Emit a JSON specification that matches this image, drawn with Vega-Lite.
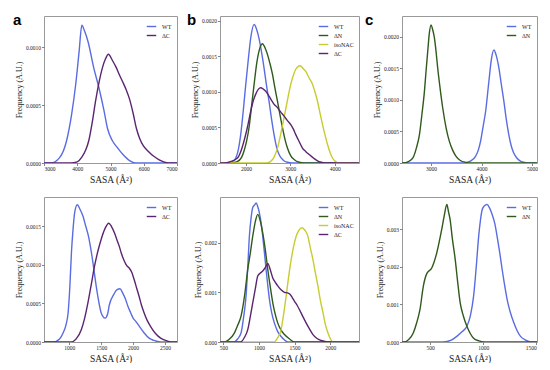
{
"$schema": "https://vega.github.io/schema/vega-lite/v6.json",
"background": "white",
"padding": {"left": 12, "top": 12, "right": 0, "bottom": 0},
"datasets": {
"ta": [
{"s":"WT","x":3000,"y":0},{"s":"WT","x":3215,"y":0},{"s":"WT","x":3471,"y":0.000046},{"s":"WT","x":3677,"y":0.00019},{"s":"WT","x":3831,"y":0.00042},{"s":"WT","x":3954,"y":0.00068},{"s":"WT","x":4055,"y":0.00096},{"s":"WT","x":4138,"y":0.00119},{"s":"WT","x":4220,"y":0.00114},{"s":"WT","x":4323,"y":0.00105},{"s":"WT","x":4498,"y":0.00082},{"s":"WT","x":4652,"y":0.00065},{"s":"WT","x":4806,"y":0.00045},{"s":"WT","x":4908,"y":0.0003},{"s":"WT","x":5062,"y":0.00019},{"s":"WT","x":5215,"y":0.00013},{"s":"WT","x":5369,"y":0.000075},{"s":"WT","x":5575,"y":0.00002},{"s":"WT","x":5750,"y":0},{"s":"WT","x":7000,"y":0},
{"s":"ΔC","x":3000,"y":0},{"s":"ΔC","x":3800,"y":0},{"s":"ΔC","x":4000,"y":0.00001},{"s":"ΔC","x":4138,"y":0.00005},{"s":"ΔC","x":4250,"y":0.00011},{"s":"ΔC","x":4344,"y":0.00019},{"s":"ΔC","x":4450,"y":0.00035},{"s":"ΔC","x":4548,"y":0.00053},{"s":"ΔC","x":4650,"y":0.00069},{"s":"ΔC","x":4754,"y":0.00082},{"s":"ΔC","x":4850,"y":0.0009},{"s":"ΔC","x":4938,"y":0.00094},{"s":"ΔC","x":5050,"y":0.00089},{"s":"ΔC","x":5163,"y":0.00083},{"s":"ΔC","x":5270,"y":0.00076},{"s":"ΔC","x":5369,"y":0.0007},{"s":"ΔC","x":5475,"y":0.00063},{"s":"ΔC","x":5575,"y":0.00055},{"s":"ΔC","x":5680,"y":0.00043},{"s":"ΔC","x":5778,"y":0.0003},{"s":"ΔC","x":5880,"y":0.00021},{"s":"ΔC","x":5985,"y":0.00015},{"s":"ΔC","x":6140,"y":0.0001},{"s":"ΔC","x":6292,"y":0.00006},{"s":"ΔC","x":6450,"y":0.00003},{"s":"ΔC","x":6600,"y":0.00001},{"s":"ΔC","x":6750,"y":0},{"s":"ΔC","x":7000,"y":0}
],
"tb": [
{"s":"WT","x":1400,"y":0},{"s":"WT","x":1500,"y":0},{"s":"WT","x":1700,"y":0.00002},{"s":"WT","x":1769,"y":0.00007},{"s":"WT","x":1830,"y":0.0002},{"s":"WT","x":1880,"y":0.0004},{"s":"WT","x":1940,"y":0.00075},{"s":"WT","x":1993,"y":0.0011},{"s":"WT","x":2050,"y":0.00145},{"s":"WT","x":2106,"y":0.00176},{"s":"WT","x":2181,"y":0.00195},{"s":"WT","x":2240,"y":0.00188},{"s":"WT","x":2294,"y":0.00175},{"s":"WT","x":2350,"y":0.00156},{"s":"WT","x":2406,"y":0.00134},{"s":"WT","x":2460,"y":0.0011},{"s":"WT","x":2519,"y":0.00087},{"s":"WT","x":2575,"y":0.00062},{"s":"WT","x":2632,"y":0.0004},{"s":"WT","x":2690,"y":0.00022},{"s":"WT","x":2745,"y":0.00012},{"s":"WT","x":2840,"y":0.00004},{"s":"WT","x":2934,"y":0.00001},{"s":"WT","x":3050,"y":0},{"s":"WT","x":4550,"y":0},
{"s":"ΔN","x":1400,"y":0},{"s":"ΔN","x":1650,"y":0},{"s":"ΔN","x":1800,"y":0.00002},{"s":"ΔN","x":1900,"y":0.00008},{"s":"ΔN","x":1955,"y":0.00017},{"s":"ΔN","x":2010,"y":0.0003},{"s":"ΔN","x":2068,"y":0.0005},{"s":"ΔN","x":2125,"y":0.0008},{"s":"ΔN","x":2181,"y":0.0011},{"s":"ΔN","x":2240,"y":0.0014},{"s":"ΔN","x":2294,"y":0.00158},{"s":"ΔN","x":2370,"y":0.00168},{"s":"ΔN","x":2430,"y":0.00162},{"s":"ΔN","x":2483,"y":0.00153},{"s":"ΔN","x":2540,"y":0.0014},{"s":"ΔN","x":2596,"y":0.00125},{"s":"ΔN","x":2650,"y":0.00106},{"s":"ΔN","x":2709,"y":0.00087},{"s":"ΔN","x":2765,"y":0.00068},{"s":"ΔN","x":2821,"y":0.0005},{"s":"ΔN","x":2880,"y":0.00033},{"s":"ΔN","x":2934,"y":0.00021},{"s":"ΔN","x":3010,"y":0.0001},{"s":"ΔN","x":3084,"y":0.00005},{"s":"ΔN","x":3200,"y":0.00001},{"s":"ΔN","x":3310,"y":0},{"s":"ΔN","x":4550,"y":0},
{"s":"isoNAC","x":1400,"y":0},{"s":"isoNAC","x":2450,"y":0},{"s":"isoNAC","x":2550,"y":0.00002},{"s":"isoNAC","x":2630,"y":0.00008},{"s":"isoNAC","x":2709,"y":0.00021},{"s":"isoNAC","x":2780,"y":0.0004},{"s":"isoNAC","x":2858,"y":0.00064},{"s":"isoNAC","x":2930,"y":0.00087},{"s":"isoNAC","x":3009,"y":0.00111},{"s":"isoNAC","x":3070,"y":0.00124},{"s":"isoNAC","x":3122,"y":0.00132},{"s":"isoNAC","x":3219,"y":0.00137},{"s":"isoNAC","x":3290,"y":0.00133},{"s":"isoNAC","x":3348,"y":0.00129},{"s":"isoNAC","x":3420,"y":0.0012},{"s":"isoNAC","x":3499,"y":0.00111},{"s":"isoNAC","x":3560,"y":0.00099},{"s":"isoNAC","x":3612,"y":0.00087},{"s":"isoNAC","x":3670,"y":0.0007},{"s":"isoNAC","x":3725,"y":0.00054},{"s":"isoNAC","x":3780,"y":0.0004},{"s":"isoNAC","x":3838,"y":0.00026},{"s":"isoNAC","x":3900,"y":0.00014},{"s":"isoNAC","x":3950,"y":0.00007},{"s":"isoNAC","x":4020,"y":0.00002},{"s":"isoNAC","x":4100,"y":0},{"s":"isoNAC","x":4550,"y":0},
{"s":"ΔC","x":1400,"y":0},{"s":"ΔC","x":1500,"y":0},{"s":"ΔC","x":1650,"y":0.00002},{"s":"ΔC","x":1806,"y":0.00007},{"s":"ΔC","x":1880,"y":0.00016},{"s":"ΔC","x":1955,"y":0.00031},{"s":"ΔC","x":2030,"y":0.0005},{"s":"ΔC","x":2106,"y":0.00073},{"s":"ΔC","x":2160,"y":0.00087},{"s":"ΔC","x":2219,"y":0.00097},{"s":"ΔC","x":2280,"y":0.00104},{"s":"ΔC","x":2332,"y":0.00106},{"s":"ΔC","x":2390,"y":0.00104},{"s":"ΔC","x":2445,"y":0.00101},{"s":"ΔC","x":2500,"y":0.00096},{"s":"ΔC","x":2558,"y":0.0009},{"s":"ΔC","x":2630,"y":0.00083},{"s":"ΔC","x":2709,"y":0.00078},{"s":"ΔC","x":2780,"y":0.00072},{"s":"ΔC","x":2858,"y":0.00066},{"s":"ΔC","x":2930,"y":0.0006},{"s":"ΔC","x":3009,"y":0.00054},{"s":"ΔC","x":3065,"y":0.00048},{"s":"ΔC","x":3122,"y":0.0004},{"s":"ΔC","x":3200,"y":0.0003},{"s":"ΔC","x":3273,"y":0.00021},{"s":"ΔC","x":3350,"y":0.00016},{"s":"ΔC","x":3424,"y":0.00012},{"s":"ΔC","x":3520,"y":0.00007},{"s":"ΔC","x":3612,"y":0.00003},{"s":"ΔC","x":3700,"y":0.00001},{"s":"ΔC","x":3770,"y":0},{"s":"ΔC","x":4550,"y":0}
],
"tc": [
{"s":"WT","x":2420,"y":0},{"s":"WT","x":3650,"y":0},{"s":"WT","x":3780,"y":0.00003},{"s":"WT","x":3885,"y":0.00011},{"s":"WT","x":3935,"y":0.0002},{"s":"WT","x":3983,"y":0.00035},{"s":"WT","x":4030,"y":0.00057},{"s":"WT","x":4082,"y":0.00082},{"s":"WT","x":4147,"y":0.0013},{"s":"WT","x":4195,"y":0.00164},{"s":"WT","x":4246,"y":0.00179},{"s":"WT","x":4290,"y":0.00171},{"s":"WT","x":4344,"y":0.00151},{"s":"WT","x":4390,"y":0.00126},{"s":"WT","x":4443,"y":0.00098},{"s":"WT","x":4490,"y":0.0007},{"s":"WT","x":4541,"y":0.00045},{"s":"WT","x":4590,"y":0.00027},{"s":"WT","x":4639,"y":0.00016},{"s":"WT","x":4700,"y":0.00008},{"s":"WT","x":4770,"y":0.00003},{"s":"WT","x":4850,"y":0.00001},{"s":"WT","x":4950,"y":0},{"s":"WT","x":5100,"y":0},
{"s":"ΔN","x":2420,"y":0},{"s":"ΔN","x":2450,"y":0},{"s":"ΔN","x":2550,"y":0.00002},{"s":"ΔN","x":2640,"y":0.00008},{"s":"ΔN","x":2710,"y":0.00024},{"s":"ΔN","x":2770,"y":0.00045},{"s":"ΔN","x":2820,"y":0.00078},{"s":"ΔN","x":2869,"y":0.00114},{"s":"ΔN","x":2900,"y":0.00145},{"s":"ΔN","x":2935,"y":0.00178},{"s":"ΔN","x":2965,"y":0.00205},{"s":"ΔN","x":3000,"y":0.00219},{"s":"ΔN","x":3030,"y":0.00212},{"s":"ΔN","x":3065,"y":0.00199},{"s":"ΔN","x":3100,"y":0.00176},{"s":"ΔN","x":3131,"y":0.00151},{"s":"ΔN","x":3180,"y":0.00118},{"s":"ΔN","x":3230,"y":0.00088},{"s":"ΔN","x":3300,"y":0.00055},{"s":"ΔN","x":3360,"y":0.00035},{"s":"ΔN","x":3430,"y":0.0002},{"s":"ΔN","x":3492,"y":0.00011},{"s":"ΔN","x":3580,"y":0.00004},{"s":"ΔN","x":3690,"y":0.00001},{"s":"ΔN","x":3800,"y":0},{"s":"ΔN","x":5100,"y":0}
],
"ba": [
{"s":"WT","x":600,"y":0},{"s":"WT","x":750,"y":0},{"s":"WT","x":850,"y":0.00004},{"s":"WT","x":907,"y":0.00012},{"s":"WT","x":950,"y":0.00022},{"s":"WT","x":984,"y":0.00038},{"s":"WT","x":1010,"y":0.0007},{"s":"WT","x":1036,"y":0.00116},{"s":"WT","x":1060,"y":0.00145},{"s":"WT","x":1087,"y":0.00168},{"s":"WT","x":1128,"y":0.00178},{"s":"WT","x":1170,"y":0.00172},{"s":"WT","x":1217,"y":0.00163},{"s":"WT","x":1260,"y":0.0015},{"s":"WT","x":1303,"y":0.00137},{"s":"WT","x":1340,"y":0.0012},{"s":"WT","x":1372,"y":0.00103},{"s":"WT","x":1410,"y":0.0008},{"s":"WT","x":1449,"y":0.00059},{"s":"WT","x":1500,"y":0.00038},{"s":"WT","x":1530,"y":0.00033},{"s":"WT","x":1562,"y":0.00031},{"s":"WT","x":1600,"y":0.00036},{"s":"WT","x":1628,"y":0.00048},{"s":"WT","x":1700,"y":0.00062},{"s":"WT","x":1750,"y":0.00068},{"s":"WT","x":1796,"y":0.00069},{"s":"WT","x":1840,"y":0.00063},{"s":"WT","x":1883,"y":0.00055},{"s":"WT","x":1920,"y":0.00046},{"s":"WT","x":1961,"y":0.00038},{"s":"WT","x":2000,"y":0.00031},{"s":"WT","x":2039,"y":0.00027},{"s":"WT","x":2100,"y":0.0002},{"s":"WT","x":2170,"y":0.00012},{"s":"WT","x":2250,"y":0.00005},{"s":"WT","x":2325,"y":0.00002},{"s":"WT","x":2430,"y":0},{"s":"WT","x":2700,"y":0},
{"s":"ΔC","x":600,"y":0},{"s":"ΔC","x":1030,"y":0},{"s":"ΔC","x":1110,"y":0.00004},{"s":"ΔC","x":1190,"y":0.00016},{"s":"ΔC","x":1240,"y":0.0003},{"s":"ΔC","x":1294,"y":0.00051},{"s":"ΔC","x":1345,"y":0.00074},{"s":"ΔC","x":1396,"y":0.00098},{"s":"ΔC","x":1450,"y":0.00118},{"s":"ΔC","x":1500,"y":0.00133},{"s":"ΔC","x":1560,"y":0.00147},{"s":"ΔC","x":1619,"y":0.00154},{"s":"ΔC","x":1660,"y":0.0015},{"s":"ΔC","x":1706,"y":0.00142},{"s":"ΔC","x":1745,"y":0.00133},{"s":"ΔC","x":1784,"y":0.00124},{"s":"ΔC","x":1820,"y":0.00114},{"s":"ΔC","x":1862,"y":0.00105},{"s":"ΔC","x":1900,"y":0.00099},{"s":"ΔC","x":1939,"y":0.00096},{"s":"ΔC","x":1980,"y":0.0009},{"s":"ΔC","x":2016,"y":0.00081},{"s":"ΔC","x":2055,"y":0.0007},{"s":"ΔC","x":2094,"y":0.00059},{"s":"ΔC","x":2130,"y":0.00048},{"s":"ΔC","x":2171,"y":0.00038},{"s":"ΔC","x":2220,"y":0.00028},{"s":"ΔC","x":2274,"y":0.0002},{"s":"ΔC","x":2350,"y":0.00011},{"s":"ΔC","x":2430,"y":0.00005},{"s":"ΔC","x":2510,"y":0.00002},{"s":"ΔC","x":2590,"y":0},{"s":"ΔC","x":2700,"y":0}
],
"bb": [
{"s":"WT","x":450,"y":0},{"s":"WT","x":650,"y":0},{"s":"WT","x":700,"y":0.00006},{"s":"WT","x":749,"y":0.00018},{"s":"WT","x":785,"y":0.0005},{"s":"WT","x":819,"y":0.00092},{"s":"WT","x":843,"y":0.0015},{"s":"WT","x":866,"y":0.00213},{"s":"WT","x":890,"y":0.0025},{"s":"WT","x":913,"y":0.00271},{"s":"WT","x":940,"y":0.00276},{"s":"WT","x":960,"y":0.0028},{"s":"WT","x":985,"y":0.00272},{"s":"WT","x":1006,"y":0.0026},{"s":"WT","x":1030,"y":0.0024},{"s":"WT","x":1053,"y":0.00213},{"s":"WT","x":1077,"y":0.0018},{"s":"WT","x":1100,"y":0.00146},{"s":"WT","x":1124,"y":0.00114},{"s":"WT","x":1147,"y":0.00086},{"s":"WT","x":1180,"y":0.00058},{"s":"WT","x":1217,"y":0.00038},{"s":"WT","x":1260,"y":0.00022},{"s":"WT","x":1311,"y":0.00011},{"s":"WT","x":1360,"y":0.00004},{"s":"WT","x":1410,"y":0},{"s":"WT","x":2410,"y":0},
{"s":"ΔN","x":450,"y":0},{"s":"ΔN","x":510,"y":0},{"s":"ΔN","x":580,"y":0.00005},{"s":"ΔN","x":655,"y":0.00018},{"s":"ΔN","x":700,"y":0.00033},{"s":"ΔN","x":749,"y":0.00052},{"s":"ΔN","x":800,"y":0.00095},{"s":"ΔN","x":843,"y":0.00146},{"s":"ΔN","x":880,"y":0.0018},{"s":"ΔN","x":913,"y":0.00213},{"s":"ΔN","x":950,"y":0.00243},{"s":"ΔN","x":983,"y":0.00257},{"s":"ΔN","x":1020,"y":0.00243},{"s":"ΔN","x":1053,"y":0.0022},{"s":"ΔN","x":1090,"y":0.00185},{"s":"ΔN","x":1124,"y":0.00146},{"s":"ΔN","x":1160,"y":0.0011},{"s":"ΔN","x":1194,"y":0.00079},{"s":"ΔN","x":1230,"y":0.00055},{"s":"ΔN","x":1264,"y":0.00038},{"s":"ΔN","x":1310,"y":0.00024},{"s":"ΔN","x":1358,"y":0.00015},{"s":"ΔN","x":1430,"y":0.00006},{"s":"ΔN","x":1500,"y":0},{"s":"ΔN","x":2410,"y":0},
{"s":"isoNAC","x":450,"y":0},{"s":"isoNAC","x":1210,"y":0},{"s":"isoNAC","x":1260,"y":0.00008},{"s":"isoNAC","x":1311,"y":0.00025},{"s":"isoNAC","x":1345,"y":0.00055},{"s":"isoNAC","x":1381,"y":0.00092},{"s":"isoNAC","x":1415,"y":0.0013},{"s":"isoNAC","x":1452,"y":0.00166},{"s":"isoNAC","x":1490,"y":0.00195},{"s":"isoNAC","x":1522,"y":0.00213},{"s":"isoNAC","x":1560,"y":0.00225},{"s":"isoNAC","x":1602,"y":0.0023},{"s":"isoNAC","x":1645,"y":0.00225},{"s":"isoNAC","x":1686,"y":0.00213},{"s":"isoNAC","x":1720,"y":0.0019},{"s":"isoNAC","x":1757,"y":0.00166},{"s":"isoNAC","x":1790,"y":0.0014},{"s":"isoNAC","x":1827,"y":0.00113},{"s":"isoNAC","x":1860,"y":0.00085},{"s":"isoNAC","x":1898,"y":0.00059},{"s":"isoNAC","x":1930,"y":0.00036},{"s":"isoNAC","x":1968,"y":0.00018},{"s":"isoNAC","x":2000,"y":0.00007},{"s":"isoNAC","x":2040,"y":0},{"s":"isoNAC","x":2410,"y":0},
{"s":"ΔC","x":450,"y":0},{"s":"ΔC","x":740,"y":0},{"s":"ΔC","x":800,"y":0.0001},{"s":"ΔC","x":843,"y":0.00025},{"s":"ΔC","x":880,"y":0.00052},{"s":"ΔC","x":913,"y":0.00079},{"s":"ΔC","x":950,"y":0.00108},{"s":"ΔC","x":983,"y":0.00133},{"s":"ΔC","x":1020,"y":0.00139},{"s":"ΔC","x":1053,"y":0.00143},{"s":"ΔC","x":1090,"y":0.0015},{"s":"ΔC","x":1124,"y":0.00158},{"s":"ΔC","x":1160,"y":0.00145},{"s":"ΔC","x":1194,"y":0.00129},{"s":"ΔC","x":1230,"y":0.0012},{"s":"ΔC","x":1264,"y":0.00113},{"s":"ΔC","x":1310,"y":0.00105},{"s":"ΔC","x":1358,"y":0.001},{"s":"ΔC","x":1400,"y":0.00099},{"s":"ΔC","x":1428,"y":0.00097},{"s":"ΔC","x":1465,"y":0.0009},{"s":"ΔC","x":1499,"y":0.00082},{"s":"ΔC","x":1535,"y":0.00074},{"s":"ΔC","x":1569,"y":0.00065},{"s":"ΔC","x":1620,"y":0.0005},{"s":"ΔC","x":1663,"y":0.00038},{"s":"ΔC","x":1710,"y":0.00026},{"s":"ΔC","x":1757,"y":0.00015},{"s":"ΔC","x":1815,"y":0.00007},{"s":"ΔC","x":1874,"y":0.00003},{"s":"ΔC","x":1970,"y":0},{"s":"ΔC","x":2410,"y":0}
],
"bc": [
{"s":"WT","x":230,"y":0},{"s":"WT","x":620,"y":0},{"s":"WT","x":700,"y":0.00005},{"s":"WT","x":752,"y":0.00015},{"s":"WT","x":800,"y":0.00027},{"s":"WT","x":847,"y":0.00042},{"s":"WT","x":880,"y":0.0007},{"s":"WT","x":910,"y":0.00122},{"s":"WT","x":935,"y":0.002},{"s":"WT","x":958,"y":0.00282},{"s":"WT","x":975,"y":0.00325},{"s":"WT","x":989,"y":0.0035},{"s":"WT","x":1010,"y":0.00362},{"s":"WT","x":1037,"y":0.00366},{"s":"WT","x":1060,"y":0.00357},{"s":"WT","x":1084,"y":0.0034},{"s":"WT","x":1110,"y":0.00315},{"s":"WT","x":1131,"y":0.00282},{"s":"WT","x":1155,"y":0.0024},{"s":"WT","x":1179,"y":0.00193},{"s":"WT","x":1200,"y":0.00155},{"s":"WT","x":1226,"y":0.00113},{"s":"WT","x":1255,"y":0.0008},{"s":"WT","x":1289,"y":0.00051},{"s":"WT","x":1320,"y":0.0003},{"s":"WT","x":1352,"y":0.00015},{"s":"WT","x":1400,"y":0.00005},{"s":"WT","x":1450,"y":0},{"s":"WT","x":1510,"y":0},
{"s":"ΔN","x":230,"y":0},{"s":"ΔN","x":260,"y":0},{"s":"ΔN","x":300,"y":0.00007},{"s":"ΔN","x":342,"y":0.00024},{"s":"ΔN","x":375,"y":0.00052},{"s":"ΔN","x":405,"y":0.00086},{"s":"ΔN","x":437,"y":0.00149},{"s":"ΔN","x":469,"y":0.00182},{"s":"ΔN","x":516,"y":0.00197},{"s":"ΔN","x":563,"y":0.00237},{"s":"ΔN","x":610,"y":0.003},{"s":"ΔN","x":633,"y":0.00335},{"s":"ΔN","x":658,"y":0.00366},{"s":"ΔN","x":675,"y":0.00345},{"s":"ΔN","x":689,"y":0.00326},{"s":"ΔN","x":710,"y":0.00275},{"s":"ΔN","x":737,"y":0.0022},{"s":"ΔN","x":760,"y":0.0016},{"s":"ΔN","x":784,"y":0.00104},{"s":"ΔN","x":815,"y":0.00068},{"s":"ΔN","x":847,"y":0.00042},{"s":"ΔN","x":880,"y":0.00022},{"s":"ΔN","x":910,"y":0.0001},{"s":"ΔN","x":960,"y":0.00003},{"s":"ΔN","x":1010,"y":0},{"s":"ΔN","x":1510,"y":0}
]
},
"bounds": "flush",
"align": "each",
"columns": 3,
"spacing": {"row": 34, "column": 43},
"resolve": {"scale": {"color": "independent"}, "legend": {"color": "independent"}},
"concat": [
{
"width": 133, "height": 147,
"title": {"text": "a", "dx": -31, "dy": 16},
"data": {"name": "ta"},
"mark": {"type": "line", "interpolate": "monotone", "strokeWidth": 1.4, "clip": true},
"encoding": {
"x": {"field": "x", "type": "quantitative", "scale": {"domain": [3000, 7000], "nice": false, "zero": false}, "axis": {"values": [3000, 4000, 5000, 6000, 7000], "format": "d", "title": "SASA (Å²)"}},
"y": {"field": "y", "type": "quantitative", "scale": {"domain": [0, 0.00127], "nice": false}, "axis": {"values": [0, 0.0005, 0.001], "format": ".4f", "title": "Frequency (A.U.)"}},
"color": {"field": "s", "type": "nominal", "scale": {"domain": ["WT", "ΔC"], "range": ["#5a6ce2", "#5a2570"]}}
}
},
{
"width": 139, "height": 147,
"title": {"text": "b", "dx": -33, "dy": 16},
"data": {"name": "tb"},
"mark": {"type": "line", "interpolate": "monotone", "strokeWidth": 1.4, "clip": true},
"encoding": {
"x": {"field": "x", "type": "quantitative", "scale": {"domain": [1413, 4548], "nice": false, "zero": false}, "axis": {"values": [2000, 3000, 4000], "format": "d", "title": "SASA (Å²)"}},
"y": {"field": "y", "type": "quantitative", "scale": {"domain": [0, 0.00207], "nice": false}, "axis": {"values": [0, 0.0005, 0.001, 0.0015, 0.002], "format": ".4f", "title": "Frequency (A.U.)"}},
"color": {"field": "s", "type": "nominal", "scale": {"domain": ["WT", "ΔN", "isoNAC", "ΔC"], "range": ["#5a6ce2", "#2f5a1c", "#c8cc2e", "#5a2570"]}}
}
},
{
"width": 135, "height": 147,
"title": {"text": "c", "dx": -37, "dy": 16},
"data": {"name": "tc"},
"mark": {"type": "line", "interpolate": "monotone", "strokeWidth": 1.4, "clip": true},
"encoding": {
"x": {"field": "x", "type": "quantitative", "scale": {"domain": [2424, 5100], "nice": false, "zero": false}, "axis": {"values": [3000, 4000, 5000], "format": "d", "title": "SASA (Å²)"}},
"y": {"field": "y", "type": "quantitative", "scale": {"domain": [0, 0.00233], "nice": false}, "axis": {"values": [0, 0.0005, 0.001, 0.0015, 0.002], "format": ".4f", "title": "Frequency (A.U.)"}},
"color": {"field": "s", "type": "nominal", "scale": {"domain": ["WT", "ΔN"], "range": ["#5a6ce2", "#2f5a1c"]}}
}
},
{
"width": 133, "height": 145,
"data": {"name": "ba"},
"mark": {"type": "line", "interpolate": "monotone", "strokeWidth": 1.4, "clip": true},
"encoding": {
"x": {"field": "x", "type": "quantitative", "scale": {"domain": [607, 2686], "nice": false, "zero": false}, "axis": {"values": [1000, 1500, 2000, 2500], "format": "d", "title": "SASA (Å²)"}},
"y": {"field": "y", "type": "quantitative", "scale": {"domain": [0, 0.00188], "nice": false}, "axis": {"values": [0, 0.0005, 0.001, 0.0015], "format": ".4f", "title": "Frequency (A.U.)"}},
"color": {"field": "s", "type": "nominal", "scale": {"domain": ["WT", "ΔC"], "range": ["#5a6ce2", "#5a2570"]}}
}
},
{
"width": 139, "height": 145,
"data": {"name": "bb"},
"mark": {"type": "line", "interpolate": "monotone", "strokeWidth": 1.4, "clip": true},
"encoding": {
"x": {"field": "x", "type": "quantitative", "scale": {"domain": [454, 2403], "nice": false, "zero": false}, "axis": {"values": [500, 1000, 1500, 2000], "format": "d", "title": "SASA (Å²)"}},
"y": {"field": "y", "type": "quantitative", "scale": {"domain": [0, 0.00292], "nice": false}, "axis": {"values": [0, 0.001, 0.002], "format": ".3f", "title": "Frequency (A.U.)"}},
"color": {"field": "s", "type": "nominal", "scale": {"domain": ["WT", "ΔN", "isoNAC", "ΔC"], "range": ["#5a6ce2", "#2f5a1c", "#c8cc2e", "#5a2570"]}}
}
},
{
"width": 135, "height": 145,
"data": {"name": "bc"},
"mark": {"type": "line", "interpolate": "monotone", "strokeWidth": 1.4, "clip": true},
"encoding": {
"x": {"field": "x", "type": "quantitative", "scale": {"domain": [236, 1507], "nice": false, "zero": false}, "axis": {"values": [500, 1000, 1500], "format": "d", "title": "SASA (Å²)"}},
"y": {"field": "y", "type": "quantitative", "scale": {"domain": [0, 0.00386], "nice": false}, "axis": {"values": [0, 0.001, 0.002, 0.003], "format": ".3f", "title": "Frequency (A.U.)"}},
"color": {"field": "s", "type": "nominal", "scale": {"domain": ["WT", "ΔN"], "range": ["#5a6ce2", "#2f5a1c"]}}
}
}
],
"config": {
"view": {"stroke": "#999999", "strokeWidth": 1},
"axis": {"labelFont": "Liberation Serif", "titleFont": "Liberation Serif", "labelFontSize": 5.5, "labelColor": "#222222", "titleColor": "#222222", "titleFontWeight": "normal", "grid": false, "domain": false, "tickColor": "#666666", "tickSize": 2.5, "tickWidth": 0.8, "labelPadding": 1},
"axisX": {"titleFontSize": 9.5, "titlePadding": 2},
"axisY": {"titleFontSize": 8, "titlePadding": 2},
"title": {"font": "Liberation Sans", "fontSize": 15, "fontWeight": "bold", "anchor": "start", "frame": "group", "color": "#000000", "offset": 0, "baseline": "alphabetic"},
"legend": {"orient": "top-right", "offset": 5, "padding": 0, "title": null, "labelFont": "Liberation Serif", "labelFontSize": 6, "labelColor": "#222222", "symbolType": "stroke", "symbolSize": 90, "symbolStrokeWidth": 1.4, "rowPadding": 0, "labelOffset": 5}
}
}
